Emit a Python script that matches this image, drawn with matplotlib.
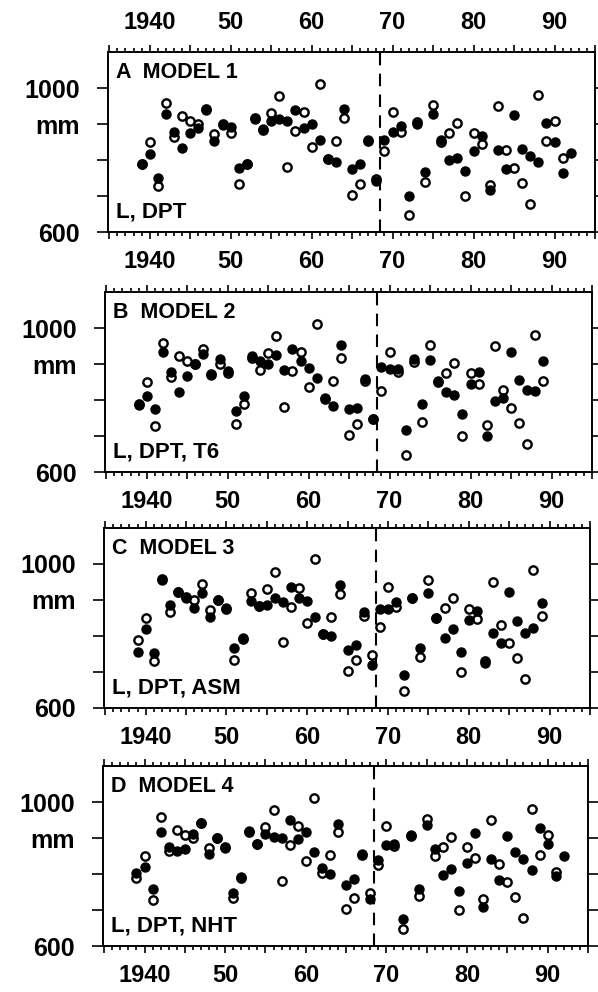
import numpy as np
import matplotlib
matplotlib.use('Agg')
import matplotlib.pyplot as plt
from matplotlib.ticker import MultipleLocator, FixedLocator, FuncFormatter

plt.rcParams['font.family'] = ['Liberation Sans', 'DejaVu Sans']

# observed rainfall (open circles), 1939-1991
obs_years = np.arange(1939, 1992)
obs = [788, 850, 728, 957, 865, 921, 907, 899, 943, 872,
       900, 875, 733, 790, 918, 883, 930, 977, 781, 880,
       933, 836, 1012, 804, 852, 916, 702, 732, 853, 747,
       824, 934, 878, 646, 905, 740, 954, 850, 876, 903,
       699, 874, 845, 730, 950, 829, 779, 737, 678, 981,
       854, 908, 806]

# model predictions (filled circles)
pred_years_long = np.arange(1939, 1993)
pred_years_short = np.arange(1939, 1990)

model1 = [790, 816, 750, 929, 878, 834, 876, 890, 940, 853,
          896, 892, 778, 790, 915, 885, 908, 913, 907, 938,
          890, 899, 856, 804, 794, 941, 776, 788, 855, 741,
          855, 878, 894, 700, 901, 767, 929, 856, 799, 806,
          769, 824, 866, 716, 827, 776, 924, 831, 810, 794,
          903, 850, 765, 820]
model2 = [785, 810, 774, 933, 878, 822, 866, 899, 929, 869,
          915, 880, 769, 810, 922, 907, 899, 924, 882, 943,
          907, 889, 862, 806, 783, 954, 774, 778, 859, 748,
          892, 885, 885, 716, 913, 790, 912, 853, 822, 815,
          760, 845, 878, 700, 797, 806, 933, 855, 829, 824,
          908]
model3 = [754, 819, 752, 955, 886, 921, 905, 877, 919, 852,
          900, 877, 764, 794, 897, 881, 886, 903, 893, 935,
          903, 895, 852, 803, 798, 939, 759, 775, 866, 719,
          875, 875, 894, 690, 903, 764, 917, 849, 794, 817,
          754, 844, 868, 724, 807, 780, 921, 840, 806, 821,
          891]
model4 = [804, 819, 759, 917, 876, 864, 870, 910, 943, 856,
          899, 873, 748, 793, 919, 882, 910, 904, 899, 949,
          896, 917, 861, 818, 799, 938, 769, 785, 856, 730,
          838, 881, 884, 676, 907, 757, 936, 870, 796, 815,
          753, 831, 915, 709, 843, 782, 906, 861, 841, 811,
          929, 882, 794, 851]

titles = ['A  MODEL 1', 'B  MODEL 2', 'C  MODEL 3', 'D  MODEL 4']
predictors = ['L, DPT', 'L, DPT, T6', 'L, DPT, ASM', 'L, DPT, NHT']
preds = [model1, model2, model3, model4]
pred_years = [pred_years_long, pred_years_short, pred_years_short, pred_years_long]
obs_end = [1991, 1989, 1989, 1991]

# panel frames in pixels: left, top, right, bottom
boxes = [(108, 52, 595, 232), (105, 292, 592, 472),
         (104, 527.5, 590, 707.5), (103, 766, 588, 946)]

W, H = 598, 992
fig = plt.figure(figsize=(W / 100, H / 100), dpi=100)


def year_fmt(v, pos):
    v = int(round(v))
    if v % 10:
        return ''
    return '1940' if v == 1940 else '%02d' % (v % 100)


for i in range(4):
    l, t, r, b = boxes[i]
    ax = fig.add_axes([l / W, 1 - b / H, (r - l) / W, (b - t) / H])
    n = obs_end[i] - 1939 + 1
    ax.plot(obs_years[:n], obs[:n], 'o', ms=6, mfc='white', mec='black',
            mew=1.7, zorder=3)
    ax.plot(pred_years[i], preds[i], 'o', ms=6.5, color='black', zorder=4)
    ax.axvline(1968.5, color='black', lw=1.5, dashes=(6, 4), zorder=2)

    ax.set_xlim(1934.85, 1995)
    ax.set_ylim(600, 1100)
    for s in ax.spines.values():
        s.set_linewidth(1.4)

    ax.xaxis.set_major_locator(MultipleLocator(5))
    ax.xaxis.set_minor_locator(MultipleLocator(1))
    ax.xaxis.set_major_formatter(FuncFormatter(year_fmt))
    ax.yaxis.set_major_locator(FixedLocator([600, 700, 800, 900, 1000]))
    ax.set_yticklabels(['600', '', '', 'mm', '1000'])

    ax.tick_params(axis='x', which='both', direction='out', top=True,
                   bottom=True, labeltop=(i == 0), labelbottom=True,
                   width=1.2, labelsize=17, pad=8)
    ax.tick_params(axis='x', which='major', length=5)
    ax.tick_params(axis='x', which='minor', length=3)
    ax.tick_params(axis='y', which='major', direction='out', left=True,
                   right=True, length=8, width=1.2, labelsize=18, pad=12)
    for lab in ax.get_xticklabels() + ax.get_yticklabels():
        lab.set_fontweight('bold')

    ax.text(0.017, 0.885, titles[i], transform=ax.transAxes, fontsize=15.5,
            fontweight='bold', va='center', ha='left')
    ax.text(0.017, 0.11, predictors[i], transform=ax.transAxes,
            fontsize=16, fontweight='bold', va='center', ha='left')

fig.savefig('out.png', dpi=100)
